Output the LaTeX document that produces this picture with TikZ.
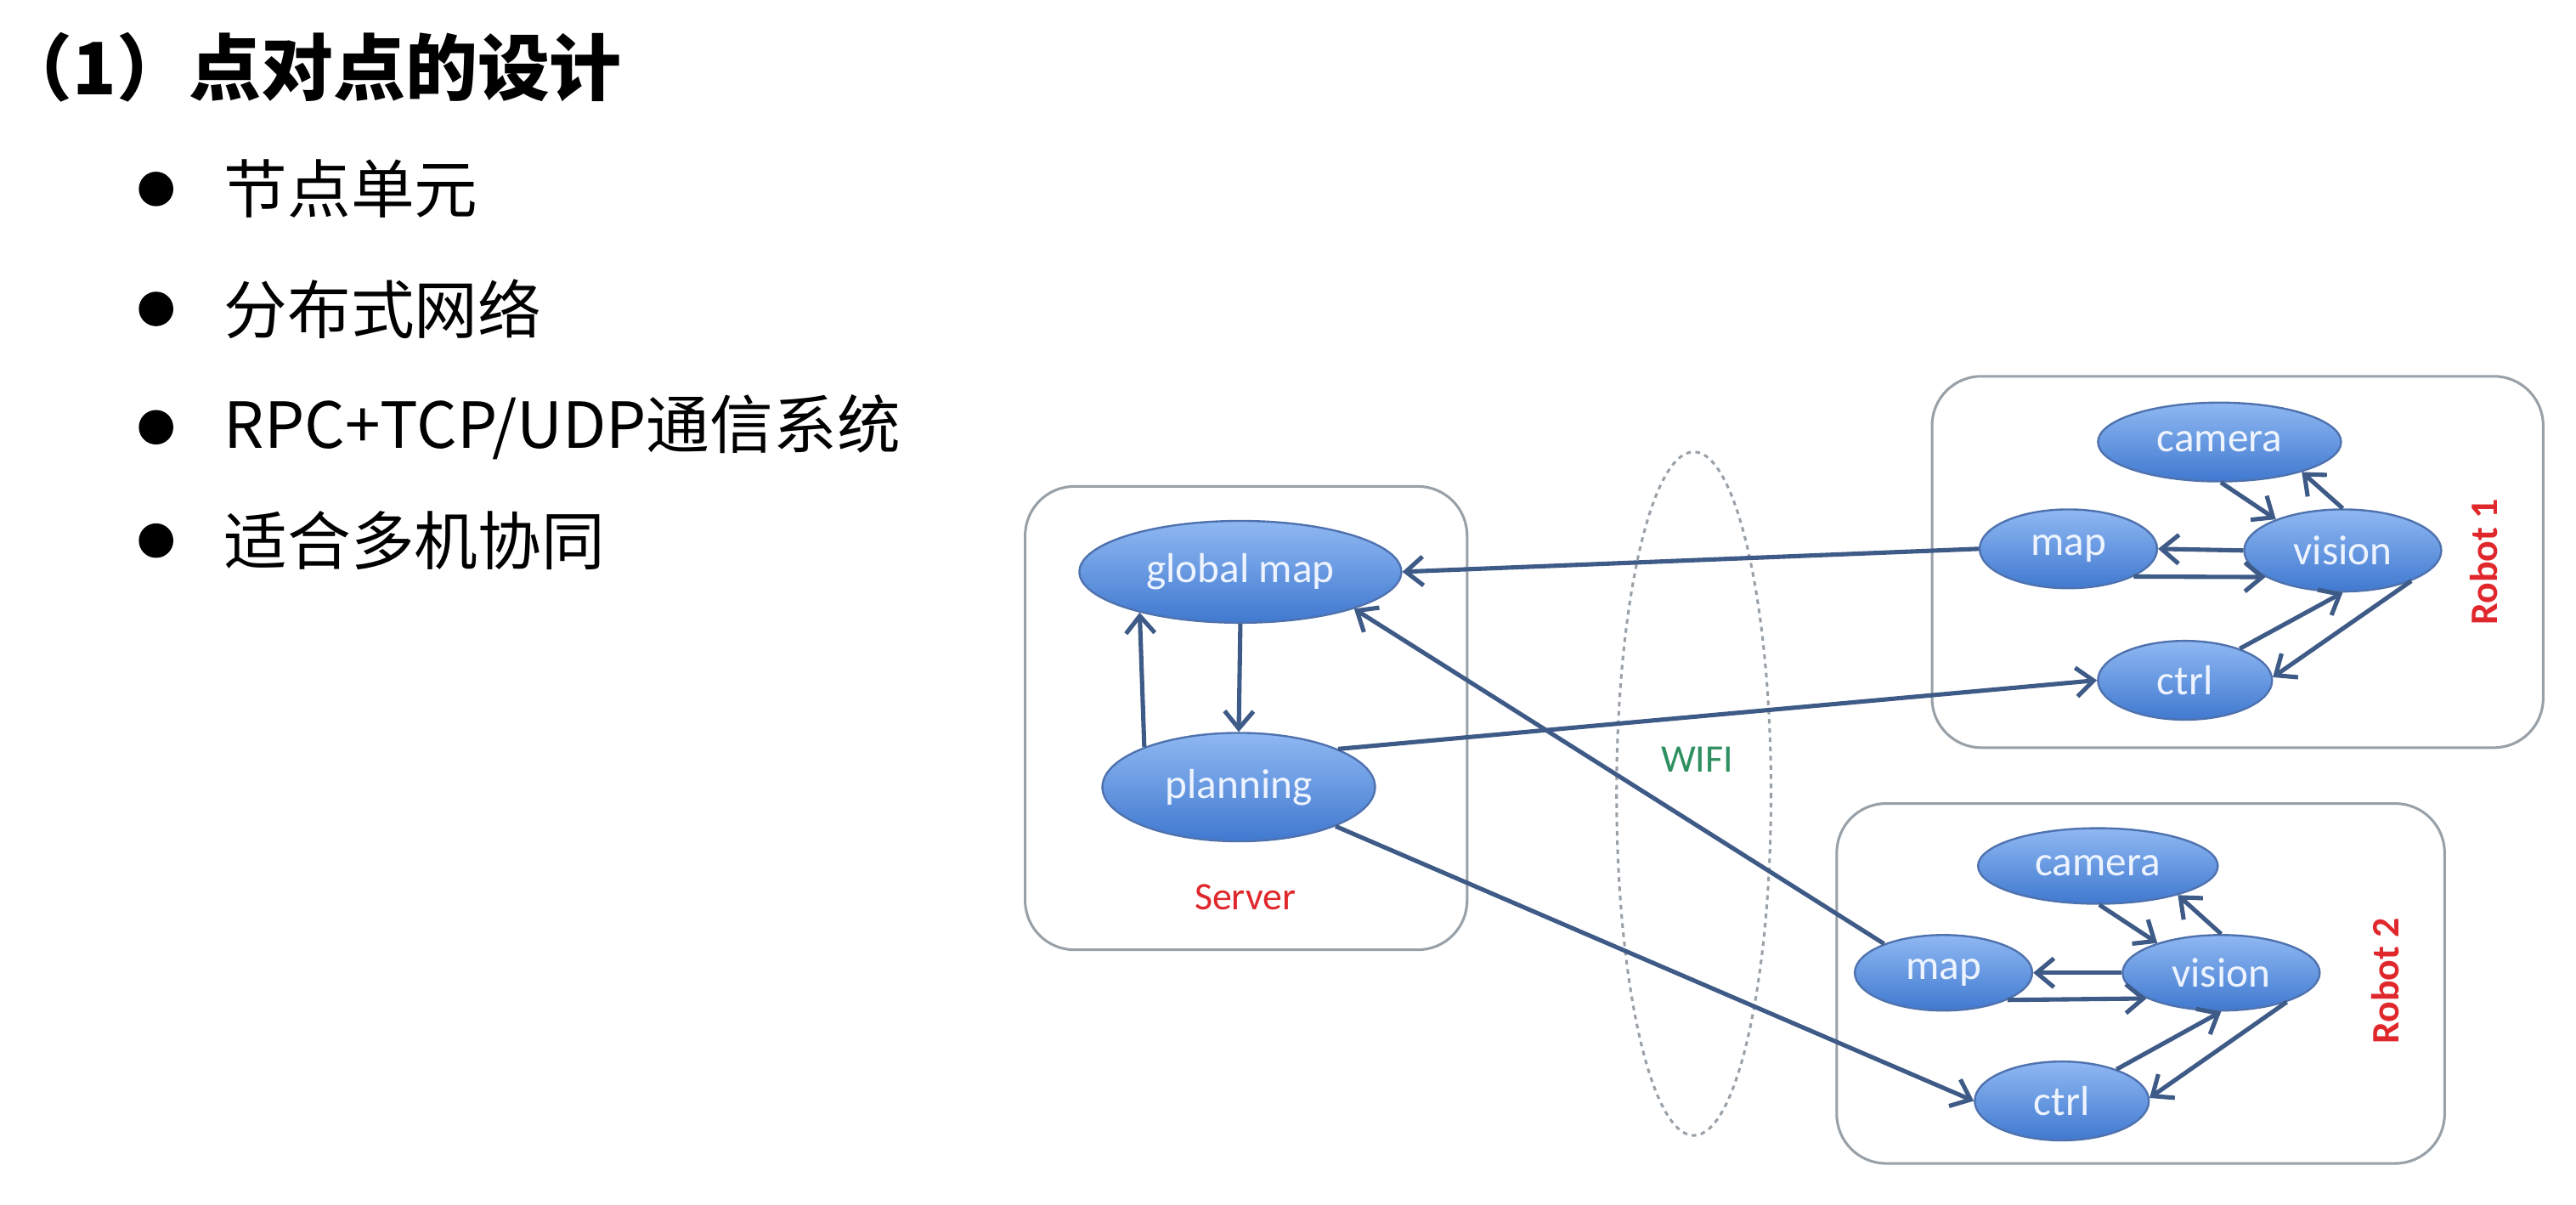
\documentclass[tikz,border=0pt]{standalone}
\usepackage{fontspec}
\setmainfont{Carlito}
\newfontfamily\cjk{Noto Sans CJK SC}
\usetikzlibrary{shapes.geometric,arrows.meta}
\definecolor{arrowc}{HTML}{3E5A86}
\definecolor{nodetop}{HTML}{8FB8F2}
\definecolor{nodemid}{HTML}{5E92E2}
\definecolor{nodebot}{HTML}{4079D0}
\definecolor{nodeline}{HTML}{4F72AE}
\definecolor{nodetext}{HTML}{EEF4FF}
\definecolor{boxc}{HTML}{98A0A8}
\definecolor{redc}{HTML}{E0282C}
\definecolor{greenc}{HTML}{2E9060}
\begin{document}
\begin{tikzpicture}[x=0.02cm,y=-0.02cm,
  blob/.style={ellipse, draw=nodeline, line width=0.7pt, top color=nodetop, middle color=nodemid, bottom color=nodebot,
    text=nodetext, font=\fontsize{14.5}{16}\selectfont, inner sep=0pt},
  sz/.style 2 args={minimum width=#1cm, minimum height=#2cm},
  arr/.style={draw=arrowc, line width=1.5pt, -{Straight Barb[length=6pt,width=10pt]}},
  box/.style={draw=boxc, line width=0.9pt, rounded corners=0.6cm},
  lab/.style={text=redc, font=\fontsize{13.5}{15}\selectfont},
  bul/.style={circle, fill=black, minimum size=0.42cm, inner sep=0pt},
  btext/.style={anchor=west, inner sep=0pt, font=\cjk\fontsize{22}{26}\selectfont}
]
\fill[white] (0,0) rectangle (1568,733);
\useasboundingbox (0,0) rectangle (1568,733);

% left text
\node[anchor=west, inner sep=0pt, font=\cjk\bfseries\fontsize{25}{30}\selectfont] (title) at (0,41) {（1）点对点的设计};
\node[bul] (b1) at (95,115) {};
\node[bul] (b2) at (95,188) {};
\node[bul] (b3) at (95,260) {};
\node[bul] (b4) at (95,329) {};
\node[btext] (t1) at (136,115) {节点单元};
\node[btext] (t2) at (136,188) {分布式网络};
\node[btext] (t3) at (136,260) {RPC+TCP/UDP通信系统};
\node[btext] (t4) at (136,329) {适合多机协同};

% containers
\draw[box] (624,296) rectangle (893,578);
\draw[box] (1176,229) rectangle (1548,455);
\draw[box] (1118,489) rectangle (1488,708);
\draw[boxc, line width=0.9pt, dash pattern=on 1.6pt off 1.6pt] (1031,483) ellipse [x radius=47, y radius=208];

\node[lab] (server) at (758,546) {Server};
\node[text=greenc, font=\fontsize{13.5}{15}\selectfont] (wifi) at (1033,462) {WIFI};
\node[lab, font=\bfseries\fontsize{13.5}{15}\selectfont, rotate=90] (robot1) at (1512,342) {Robot 1};
\node[lab, font=\bfseries\fontsize{13.5}{15}\selectfont, rotate=90] (robot2) at (1452,597) {Robot 2};

% server nodes
\node[blob, sz={3.92}{1.24}] (gm) at (755,348) {global map};
\node[blob, sz={3.32}{1.32}] (plan) at (754,479) {planning};

% robot 1
\node[blob, sz={2.96}{0.96}] (caA) at (1351,269) {camera};
\node[blob, sz={2.16}{0.96}] (maA) at (1259,334) {map};
\node[blob, sz={2.40}{1.00}] (viA) at (1426,335) {vision};
\node[blob, sz={2.12}{0.96}] (ctA) at (1330,414) {ctrl};

% robot 2
\node[blob, sz={2.92}{0.92}] (caB) at (1277,527) {camera};
\node[blob, sz={2.16}{0.92}] (maB) at (1183,592) {map};
\node[blob, sz={2.40}{0.92}] (viB) at (1352,592) {vision};
\node[blob, sz={2.12}{0.96}] (ctB) at (1255,670) {ctrl};

% server arrows
\draw[arr] (gm.south) -- (plan.north);
\draw[arr] (plan.157) -- (gm.-158);
\draw[arr] (maA.west) -- (gm.east);
\draw[arr] (plan.21) -- (ctA.west);
\draw[arr] (maB.154) -- (gm.-18);
\draw[arr] (plan.-22) -- (ctB.west);

% robot 1 arrows
\draw[arr] (caA.-88) -- (viA.155);
\draw[arr] (viA.90) -- (caA.-20);
\draw[arr] (viA.west) -- (maA.east);
\draw[arr] (maA.-23) -- (viA.-161);
\draw[arr] (ctA.30) -- (viA.-90);
\draw[arr] (viA.-24) -- (ctA.2);

% robot 2 arrows
\draw[arr] (caB.-88) -- (viB.155);
\draw[arr] (viB.90) -- (caB.-20);
\draw[arr] (viB.west) -- (maB.east);
\draw[arr] (maB.-23) -- (viB.-161);
\draw[arr] (ctB.30) -- (viB.-90);
\draw[arr] (viB.-24) -- (ctB.2);
\end{tikzpicture}
\end{document}
